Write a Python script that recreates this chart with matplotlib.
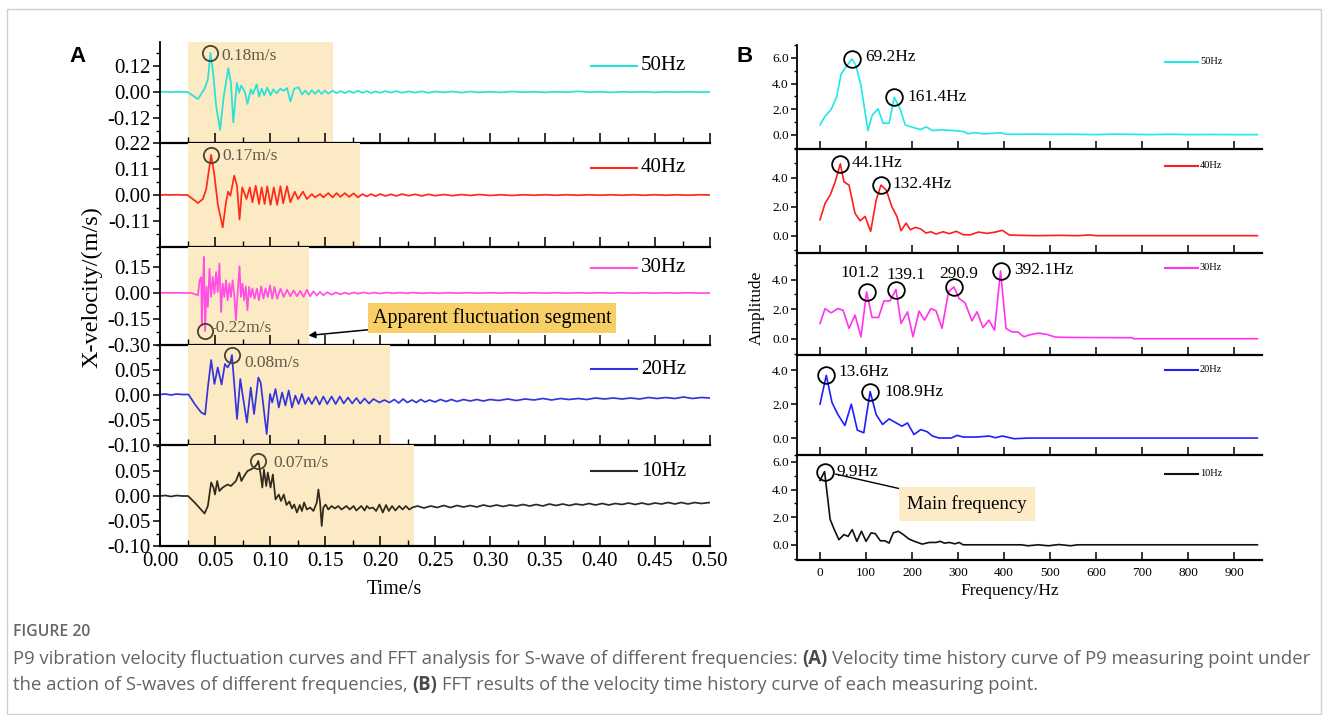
import numpy as np
import matplotlib
matplotlib.use("Agg")
import matplotlib.pyplot as plt
from matplotlib.ticker import FixedLocator, MultipleLocator, FormatStrFormatter
from matplotlib.lines import Line2D
from matplotlib.patches import Rectangle

plt.rcParams['axes.unicode_minus'] = False
plt.rcParams['font.family'] = ['Liberation Serif', 'DejaVu Serif']

# ---------------------------------------------------------------- data
# velocity time histories at P9 (time in s, X-velocity in m/s)
t50 = [0.000, 0.005, 0.010, 0.015, 0.020, 0.025, 0.0345, 0.0405, 0.0435, 0.0459,
       0.0483, 0.051, 0.0546, 0.058, 0.0621, 0.0645, 0.0666, 0.0699, 0.072, 0.0738,
       0.0771, 0.0795, 0.0825, 0.0843, 0.0879, 0.090, 0.0924, 0.0948, 0.0975, 0.1005,
       0.103, 0.106, 0.1095, 0.1125, 0.1155, 0.1185, 0.122, 0.126, 0.129, 0.132,
       0.135, 0.138, 0.141, 0.144, 0.147, 0.150, 0.153, 0.157, 0.1605, 0.164,
       0.168, 0.172, 0.176, 0.180, 0.184, 0.188, 0.192, 0.196, 0.200, 0.205,
       0.210, 0.215, 0.220, 0.226, 0.232, 0.238, 0.244, 0.250, 0.258, 0.266,
       0.274, 0.282, 0.290, 0.300, 0.310, 0.320, 0.330, 0.340, 0.350, 0.360,
       0.370, 0.380, 0.390, 0.400, 0.410, 0.420, 0.430, 0.440, 0.450, 0.460,
       0.470, 0.480, 0.490, 0.500]
v50 = [0.000, 0.001, -0.001, 0.001, 0.000, 0.000, -0.033, 0.015, 0.057, 0.180,
       0.087, -0.063, -0.175, -0.018, 0.110, 0.042, -0.141, 0.042, -0.003, 0.030,
       0.000, -0.055, 0.012, -0.010, 0.035, -0.021, 0.015, -0.015, 0.020, -0.015,
       0.012, -0.006, 0.015, 0.005, 0.018, -0.044, 0.015, 0.022, -0.012, 0.006,
       -0.012, 0.008, -0.009, 0.008, -0.009, 0.006, -0.008, 0.006, -0.006, 0.004,
       -0.005, 0.004, -0.004, 0.005, -0.004, 0.004, -0.005, 0.003, -0.004, 0.004,
       -0.003, 0.004, -0.004, 0.003, -0.003, 0.003, -0.004, 0.002, -0.002, 0.002,
       -0.003, 0.002, -0.002, 0.001, -0.002, 0.002, -0.001, 0.001, -0.002, 0.001,
       -0.001, 0.003, -0.001, 0.001, -0.002, 0.001, -0.001, 0.001, -0.002, 0.001,
       -0.001, 0.001, -0.001, 0.000]

t40 = [0.000, 0.005, 0.010, 0.015, 0.020, 0.025, 0.0345, 0.039, 0.042, 0.0465,
       0.0495, 0.0525, 0.057, 0.060, 0.062, 0.064, 0.0675, 0.070, 0.0723, 0.0747,
       0.0765, 0.0786, 0.0816, 0.084, 0.087, 0.090, 0.0924, 0.0951, 0.0975, 0.1005,
       0.1035, 0.1065, 0.1095, 0.112, 0.1155, 0.1185, 0.1225, 0.1255, 0.130, 0.1335,
       0.138, 0.141, 0.1455, 0.1485, 0.153, 0.157, 0.1605, 0.164, 0.168, 0.172,
       0.176, 0.180, 0.184, 0.188, 0.192, 0.196, 0.200, 0.205, 0.210, 0.215,
       0.220, 0.226, 0.232, 0.238, 0.244, 0.250, 0.258, 0.266, 0.274, 0.282,
       0.290, 0.300, 0.310, 0.320, 0.330, 0.340, 0.350, 0.360, 0.370, 0.380,
       0.390, 0.400, 0.410, 0.420, 0.430, 0.440, 0.450, 0.460, 0.470, 0.480,
       0.490, 0.500]
v40 = [0.000, 0.001, 0.000, 0.001, 0.000, 0.000, -0.034, -0.017, 0.025, 0.170,
       0.082, -0.038, -0.137, -0.031, 0.014, -0.003, 0.082, 0.039, -0.104, 0.032,
       0.011, -0.017, 0.032, -0.031, 0.039, -0.038, 0.032, -0.038, 0.037, -0.042,
       0.032, -0.042, 0.037, -0.035, 0.037, -0.031, 0.014, -0.017, 0.014, -0.017,
       0.004, -0.010, 0.004, -0.010, 0.008, -0.010, 0.008, -0.008, 0.008, -0.008,
       0.007, -0.010, 0.004, -0.006, 0.004, -0.005, 0.004, -0.004, 0.003, -0.004,
       0.004, -0.003, 0.003, -0.004, 0.003, -0.003, 0.002, -0.003, 0.002, -0.002,
       0.002, -0.002, 0.001, -0.002, 0.001, -0.001, 0.001, -0.001, 0.001, -0.001,
       0.001, -0.001, 0.001, -0.001, 0.001, -0.001, 0.001, -0.001, 0.001, -0.001,
       0.001, 0.000]

t30 = [0.000, 0.005, 0.010, 0.015, 0.020, 0.025, 0.0285, 0.0345, 0.036, 0.0375,
       0.038, 0.039, 0.0399, 0.041, 0.0423, 0.0435, 0.045, 0.0465, 0.048, 0.0495,
       0.051, 0.0525, 0.054, 0.0555, 0.057, 0.0585, 0.060, 0.0615, 0.063, 0.0645,
       0.066, 0.0675, 0.069, 0.0705, 0.0723, 0.0735, 0.075, 0.0765, 0.078, 0.0795,
       0.081, 0.0825, 0.084, 0.086, 0.088, 0.090, 0.092, 0.094, 0.096, 0.098,
       0.100, 0.102, 0.104, 0.1065, 0.1095, 0.1125, 0.1155, 0.1185, 0.1215, 0.1245,
       0.1275, 0.1305, 0.1335, 0.1365, 0.1395, 0.1425, 0.1455, 0.1485, 0.152, 0.156,
       0.160, 0.164, 0.168, 0.172, 0.176, 0.180, 0.185, 0.190, 0.195, 0.200,
       0.206, 0.212, 0.218, 0.224, 0.230, 0.238, 0.246, 0.254, 0.262, 0.270,
       0.280, 0.290, 0.300, 0.310, 0.320, 0.330, 0.340, 0.350, 0.360, 0.370,
       0.380, 0.390, 0.400, 0.410, 0.420, 0.430, 0.440, 0.450, 0.460, 0.470,
       0.480, 0.490, 0.500]
v30 = [0.000, 0.001, 0.000, 0.001, 0.000, 0.000, 0.000, -0.013, 0.073, 0.092,
       -0.187, 0.025, 0.208, -0.220, 0.035, -0.081, 0.140, -0.023, 0.092, -0.004,
       0.121, 0.006, 0.169, -0.110, 0.054, -0.023, 0.073, -0.042, 0.054, -0.023,
       0.073, -0.013, -0.158, -0.004, 0.154, -0.023, 0.054, -0.042, 0.038, -0.100,
       0.035, -0.023, 0.025, -0.033, 0.025, -0.042, 0.038, -0.033, 0.025, -0.023,
       0.044, -0.033, 0.035, -0.033, 0.025, -0.023, 0.019, -0.019, 0.015, -0.019,
       0.012, -0.023, 0.019, -0.019, 0.010, -0.015, 0.006, -0.013, 0.004, -0.010,
       0.003, -0.008, 0.002, -0.006, 0.003, -0.004, 0.003, -0.003, 0.002, -0.003,
       0.002, -0.002, 0.002, -0.002, 0.002, -0.002, 0.001, -0.002, 0.001, -0.001,
       0.001, -0.001, 0.001, -0.001, 0.001, -0.001, 0.001, -0.001, 0.001, -0.001,
       0.001, -0.001, 0.001, -0.001, 0.001, -0.001, 0.001, -0.001, 0.001, -0.001,
       0.001, -0.001, 0.000]

t20 = [0.000, 0.005, 0.010, 0.015, 0.020, 0.026, 0.0315, 0.0375, 0.041, 0.0435,
       0.0465, 0.0495, 0.0525, 0.056, 0.059, 0.0615, 0.064, 0.0654, 0.0675, 0.070,
       0.073, 0.075, 0.079, 0.0825, 0.0855, 0.0894, 0.0915, 0.097, 0.100, 0.102,
       0.105, 0.108, 0.111, 0.114, 0.117, 0.120, 0.123, 0.126, 0.129, 0.132,
       0.135, 0.138, 0.1417, 0.145, 0.1485, 0.152, 0.156, 0.1597, 0.1635, 0.167,
       0.171, 0.1747, 0.1786, 0.182, 0.186, 0.190, 0.194, 0.1995, 0.204, 0.2086,
       0.213, 0.217, 0.221, 0.225, 0.229, 0.233, 0.237, 0.241, 0.245, 0.250,
       0.255, 0.260, 0.265, 0.270, 0.276, 0.282, 0.288, 0.294, 0.300, 0.308,
       0.316, 0.324, 0.332, 0.340, 0.348, 0.356, 0.364, 0.372, 0.380, 0.388,
       0.396, 0.404, 0.412, 0.420, 0.428, 0.436, 0.444, 0.452, 0.460, 0.468,
       0.476, 0.484, 0.492, 0.500]
v20 = [0.001, 0.002, 0.000, 0.002, 0.001, 0.001, -0.018, -0.035, -0.039, 0.015,
       0.070, 0.022, 0.055, 0.021, 0.062, 0.055, 0.065, 0.080, 0.022, -0.048,
       0.032, 0.002, -0.055, 0.015, -0.038, 0.035, 0.025, -0.078, 0.002, -0.015,
       0.012, -0.025, 0.005, -0.021, 0.009, -0.025, -0.001, -0.018, 0.002, -0.018,
       -0.005, -0.018, -0.003, -0.019, -0.003, -0.018, -0.003, -0.018, -0.003, -0.017,
       -0.005, -0.017, -0.006, -0.017, -0.007, -0.017, -0.008, -0.015, -0.010, -0.015,
       -0.009, -0.016, -0.008, -0.015, -0.010, -0.015, -0.009, -0.014, -0.010, -0.014,
       -0.009, -0.013, -0.009, -0.013, -0.009, -0.012, -0.009, -0.012, -0.009, -0.011,
       -0.008, -0.011, -0.008, -0.010, -0.007, -0.010, -0.007, -0.009, -0.007, -0.009,
       -0.006, -0.008, -0.006, -0.008, -0.006, -0.008, -0.005, -0.007, -0.005, -0.007,
       -0.004, -0.007, -0.005, -0.006]

t10 = [0.000, 0.005, 0.010, 0.015, 0.020, 0.0255, 0.0315, 0.0405, 0.0435, 0.0465,
       0.0486, 0.050, 0.052, 0.054, 0.057, 0.0615, 0.0645, 0.069, 0.072, 0.074,
       0.0765, 0.0795, 0.0825, 0.0855, 0.088, 0.0894, 0.0915, 0.093, 0.0945, 0.0966,
       0.098, 0.1005, 0.1026, 0.105, 0.108, 0.110, 0.1125, 0.115, 0.1176, 0.120,
       0.122, 0.1245, 0.127, 0.129, 0.131, 0.1335, 0.1365, 0.1395, 0.1425, 0.144,
       0.1455, 0.147, 0.1485, 0.1506, 0.153, 0.156, 0.159, 0.162, 0.165, 0.1695,
       0.1725, 0.176, 0.1785, 0.183, 0.186, 0.188, 0.1905, 0.1935, 0.1965, 0.1995,
       0.2025, 0.2055, 0.208, 0.211, 0.214, 0.2175, 0.2205, 0.2235, 0.2265, 0.2295,
       0.234, 0.240, 0.246, 0.252, 0.258, 0.264, 0.270, 0.276, 0.282, 0.288,
       0.294, 0.300, 0.306, 0.312, 0.318, 0.324, 0.330, 0.336, 0.342, 0.348,
       0.354, 0.360, 0.366, 0.372, 0.378, 0.384, 0.390, 0.396, 0.402, 0.408,
       0.414, 0.420, 0.426, 0.432, 0.438, 0.444, 0.450, 0.456, 0.462, 0.468,
       0.474, 0.480, 0.486, 0.492, 0.500]
v10 = [0.000, 0.001, -0.001, 0.001, 0.000, 0.000, -0.013, -0.035, -0.020, 0.027,
       0.017, 0.003, 0.030, 0.010, 0.017, 0.023, 0.020, 0.030, 0.047, 0.030,
       0.040, 0.050, 0.053, 0.057, 0.063, 0.070, 0.043, 0.017, 0.053, 0.020,
       0.047, 0.017, 0.043, -0.007, 0.003, -0.010, 0.003, -0.018, -0.011, -0.025,
       -0.017, -0.033, -0.018, -0.030, -0.013, -0.027, -0.023, -0.030, -0.013, 0.013,
       -0.013, -0.060, -0.023, -0.017, -0.027, -0.020, -0.025, -0.020, -0.027, -0.020,
       -0.027, -0.020, -0.029, -0.020, -0.029, -0.020, -0.025, -0.023, -0.030, -0.017,
       -0.033, -0.018, -0.030, -0.020, -0.029, -0.020, -0.027, -0.020, -0.027, -0.023,
       -0.020, -0.024, -0.020, -0.023, -0.019, -0.023, -0.019, -0.022, -0.019, -0.022,
       -0.018, -0.021, -0.018, -0.021, -0.018, -0.020, -0.017, -0.020, -0.017, -0.020,
       -0.016, -0.019, -0.016, -0.019, -0.016, -0.018, -0.015, -0.018, -0.015, -0.018,
       -0.015, -0.017, -0.014, -0.017, -0.014, -0.017, -0.014, -0.016, -0.013, -0.016,
       -0.013, -0.016, -0.013, -0.015, -0.013]

# FFT amplitude spectra (frequency in Hz)
f50 = [0, 11, 24, 36, 46, 56, 69.2, 78, 89, 104, 113, 126, 137, 150, 161.4, 174,
       185, 200, 218, 231, 244, 267, 289, 311, 322, 335, 356, 393, 404, 430, 470,
       510, 550, 600, 640, 680, 720, 760, 800, 850, 900, 950]
a50 = [0.78, 1.45, 1.97, 2.94, 4.75, 5.27, 5.92, 5.40, 3.84, 0.34, 1.50, 2.03,
       0.91, 0.91, 2.93, 2.03, 0.78, 0.60, 0.42, 0.62, 0.34, 0.39, 0.34, 0.26,
       0.08, 0.18, 0.08, 0.16, 0.05, 0.05, 0.06, 0.04, 0.05, 0.02, 0.06, 0.04,
       0.02, 0.05, 0.02, 0.03, 0.02, 0.02]

f40 = [0, 11, 22, 33, 44.1, 52, 63, 76, 87, 98, 110, 122, 132.4, 144, 156, 167,
       176, 187, 196, 207, 219, 230, 241, 252, 267, 281, 296, 311, 326, 344, 363,
       381, 396, 411, 437, 474, 520, 560, 585, 600, 700, 800, 950]
a40 = [1.10, 2.24, 2.81, 3.73, 4.98, 3.73, 3.50, 1.55, 1.03, 1.33, 0.30, 2.47,
       3.50, 3.15, 2.00, 1.33, 0.34, 0.87, 0.41, 0.57, 0.46, 0.18, 0.27, 0.11,
       0.27, 0.14, 0.30, 0.07, 0.05, 0.25, 0.16, 0.25, 0.37, 0.05, 0.02, 0.00,
       0.02, 0.00, 0.05, 0.00, 0.00, 0.00, 0.00]

f30 = [0, 11, 24, 39, 50, 63, 76, 89, 101.2, 113, 127, 139, 152, 165, 176, 190,
       202, 215, 227, 241, 252, 265, 279, 290.9, 302, 315, 330, 341, 354, 367,
       379, 392.1, 404, 416, 430, 443, 456, 474, 493, 511, 537, 600, 678, 681,
       800, 950]
a30 = [1.03, 2.04, 1.75, 2.04, 1.93, 0.70, 1.60, 0.13, 3.17, 1.44, 1.44, 2.56,
       2.56, 3.33, 1.03, 1.82, 0.13, 1.87, 1.26, 2.04, 1.89, 0.70, 3.17, 3.50,
       2.72, 2.43, 1.21, 1.82, 0.76, 1.26, 0.58, 4.58, 0.70, 0.47, 0.45, 0.13,
       0.27, 0.38, 0.29, 0.11, 0.09, 0.08, 0.07, 0.00, 0.00, 0.00]

f20 = [0, 13.6, 26, 39, 54, 68, 81, 95, 108.9, 122, 136, 150, 163, 178, 190, 204,
       219, 233, 244, 259, 285, 298, 311, 341, 367, 381, 396, 422, 452, 600, 800,
       950]
a20 = [2.00, 3.70, 2.10, 1.38, 0.74, 2.00, 0.47, 0.31, 2.74, 1.38, 0.80, 1.13,
       0.93, 0.70, 0.89, 0.21, 0.50, 0.37, 0.12, 0.00, 0.00, 0.16, 0.06, 0.06,
       0.12, 0.02, 0.12, -0.04, 0.00, 0.00, 0.00, 0.00]

f10 = [0, 9.9, 22, 31, 41, 52, 61, 70, 80, 90, 100, 111, 120, 131, 141, 150, 159,
       170, 181, 193, 205, 222, 237, 252, 261, 270, 281, 293, 302, 311, 437, 452,
       474, 496, 519, 544, 560, 700, 950]
a10 = [4.66, 5.30, 1.84, 1.10, 0.37, 0.74, 0.61, 1.10, 0.25, 0.98, 0.25, 0.86,
       0.81, 0.29, 0.29, 0.12, 0.86, 0.98, 0.74, 0.42, 0.25, 0.05, 0.17, 0.17,
       0.25, 0.12, 0.17, 0.07, 0.17, 0.00, 0.00, -0.07, 0.00, -0.07, 0.02, -0.07,
       0.00, 0.00, 0.00]

series_names = ['50Hz', '40Hz', '30Hz', '20Hz', '10Hz']
segment_end = [0.157, 0.182, 0.135, 0.209, 0.231]       # end of the apparent fluctuation segment, s
peak_labels = ['0.18m/s', '0.17m/s', '-0.22m/s', '0.08m/s', '0.07m/s']
fft_peaks = [[69.2, 161.4], [44.1, 132.4], [101.2, 165, 290.9, 392.1], [13.6, 108.9], [9.9]]
fft_peak_labels = [['69.2Hz', '161.4Hz'], ['44.1Hz', '132.4Hz'],
                   ['101.2', '139.1', '290.9', '392.1Hz'], ['13.6Hz', '108.9Hz'], ['9.9Hz']]

# ---------------------------------------------------------------- figure
W, H = 1328, 715
fig = plt.figure(figsize=(W / 100, H / 100), dpi=100)


def fx(x):
    return x / W


def fy(y):
    return 1 - y / H


def panel(x0, y_top, x1, y_bot):
    return fig.add_axes([fx(x0), fy(y_bot), (x1 - x0) / W, (y_bot - y_top) / H])


SHADE = '#FCEAC4'
CIRC_L = '#4A4330'
TXT_L = '#5F5944'
left_colors = ['#28E2D8', '#FF2A1A', '#FF4FE4', '#3535DC', '#2F2A1C']
right_colors = ['#1EE8E8', '#FF1E1E', '#FF33EE', '#1E1EFF', '#111111']

left_t = [t50, t40, t30, t20, t10]
left_v = [v50, v40, v30, v20, v10]
left_bounds = [42, 143, 247, 345, 445, 546]
left_ylim = [(-0.235, 0.23), (-0.22, 0.22), (-0.30, 0.265), (-0.10, 0.10), (-0.10, 0.102)]
left_major = [[-0.12, 0.0, 0.12], [-0.11, 0.0, 0.11, 0.22], [-0.30, -0.15, 0.0, 0.15],
              [-0.10, -0.05, 0.0, 0.05], [-0.10, -0.05, 0.0, 0.05]]
left_minor = [0.06, 0.055, 0.075, 0.025, 0.025]
left_note_off = [(11, -3), (11, -1), (5, 3), (12, -8), (15, -2)]
left_legend_y = [66, 168, 268, 369, 471]

for i in range(5):
    ax = panel(160, left_bounds[i], 710, left_bounds[i + 1])
    ax.set_xlim(0, 0.5)
    ax.set_ylim(*left_ylim[i])
    ax.patch.set_alpha(0)
    ax.axvspan(0.025, segment_end[i], color=SHADE, lw=0, zorder=0)
    ax.plot(left_t[i], left_v[i], color=left_colors[i], lw=1.25, zorder=2)
    for s in ('top', 'right'):
        ax.spines[s].set_visible(False)
    ax.spines['left'].set_linewidth(1.3)
    ax.spines['bottom'].set_linewidth(1.6)
    ax.yaxis.set_major_locator(FixedLocator(left_major[i]))
    ax.yaxis.set_minor_locator(MultipleLocator(left_minor[i]))
    ax.yaxis.set_major_formatter(FormatStrFormatter('%.2f'))
    ax.xaxis.set_major_locator(MultipleLocator(0.05))
    ax.xaxis.set_minor_locator(MultipleLocator(0.025))
    ax.xaxis.set_major_formatter(FormatStrFormatter('%.2f'))
    ax.tick_params(axis='y', which='major', direction='out', length=5, width=1.1,
                   labelsize=15, pad=2)
    ax.tick_params(axis='y', which='minor', direction='out', length=3, width=1)
    ax.tick_params(axis='x', which='major', direction='in', length=7, width=1.1,
                   labelsize=15, pad=4, labelbottom=(i == 4))
    ax.tick_params(axis='x', which='minor', direction='in', length=4, width=1)

    v = np.asarray(left_v[i])
    k = int(np.argmin(v)) if peak_labels[i].startswith('-') else int(np.argmax(v))
    tp, vp = left_t[i][k], v[k]
    ax.plot([tp], [vp], 'o', ms=11, mfc='none', mec=CIRC_L, mew=1.3, zorder=3)
    ax.annotate(peak_labels[i], (tp, vp), xytext=left_note_off[i],
                textcoords='offset pixels', fontsize=12.5, color=TXT_L,
                ha='left', va='center', zorder=3)

    yl = fy(left_legend_y[i])
    fig.add_artist(Line2D([fx(591), fx(637)], [yl, yl], color=left_colors[i], lw=1.5))
    fig.text(fx(641), yl, series_names[i], fontsize=15, ha='left', va='center')

    if i == 2:
        ax.annotate('Apparent fluctuation segment', xy=(segment_end[i], -0.245),
                    xycoords='data', xytext=(fx(492), fy(318)), textcoords='figure fraction',
                    fontsize=14.5, ha='center', va='center', zorder=5,
                    bbox=dict(boxstyle='square,pad=0.25', fc='#F8CF66', ec='none'),
                    arrowprops=dict(arrowstyle='-|>', color='black', lw=1.1,
                                    mutation_scale=10, shrinkA=0, shrinkB=0))

fig.text(fx(92), fy(287), 'X-velocity/(m/s)', rotation=90, fontsize=17.5,
         ha='center', va='center')
fig.text(fx(394), fy(589), 'Time/s', fontsize=14.5, ha='center', va='center')

# ---------------------------------------------------------------- FFT panels
right_f = [f50, f40, f30, f20, f10]
right_a = [a50, a40, a30, a20, a10]
right_bounds = [45, 149, 253, 355, 455, 560]
right_ylim = [(-1.1, 7.0), (-1.2, 6.0), (-1.1, 5.8), (-1.0, 4.9), (-1.1, 6.5)]
right_major = [[0, 2, 4, 6], [0, 2, 4], [0, 2, 4], [0, 2, 4], [0, 2, 4, 6]]
right_note_off = [[(13, 2, 'left'), (13, 0, 'left')],
                  [(11, 1, 'left'), (11, 1, 'left')],
                  [(-7, 19, 'center'), (10, 15, 'center'), (5, 13, 'center'), (14, 1, 'left')],
                  [(12, 3, 'left'), (14, 0, 'left')],
                  [(12, 0, 'left')]]
right_legend_y = [62, 166, 268, 370, 474]

for i in range(5):
    ax = panel(797, right_bounds[i], 1262, right_bounds[i + 1])
    ax.set_xlim(-50, 960)
    ax.set_ylim(*right_ylim[i])
    ax.patch.set_alpha(0)
    ax.plot(right_f[i], right_a[i], color=right_colors[i], lw=1.2, zorder=2)
    for s in ('top', 'right'):
        ax.spines[s].set_visible(False)
    ax.spines['left'].set_linewidth(1.3)
    ax.spines['bottom'].set_linewidth(1.6)
    ax.yaxis.set_major_locator(FixedLocator(right_major[i]))
    ax.yaxis.set_minor_locator(MultipleLocator(1.0))
    ax.yaxis.set_major_formatter(FormatStrFormatter('%.1f'))
    ax.xaxis.set_major_locator(MultipleLocator(100))
    ax.xaxis.set_major_formatter(FormatStrFormatter('%d'))
    ax.tick_params(axis='y', which='major', direction='out', length=4, width=1.1,
                   labelsize=9.5, pad=2)
    ax.tick_params(axis='y', which='minor', direction='out', length=2.5, width=1)
    ax.tick_params(axis='x', which='major', direction='in', length=6, width=1.1,
                   labelsize=9.5, pad=5, labelbottom=(i == 4))

    f = np.asarray(right_f[i])
    a = np.asarray(right_a[i])
    for fp, lab, (dx, dy, ha) in zip(fft_peaks[i], fft_peak_labels[i], right_note_off[i]):
        k = int(np.argmin(np.abs(f - fp)))
        ax.plot([f[k]], [a[k]], 'o', ms=12, mfc='none', mec='black', mew=1.3, zorder=3)
        ax.annotate(lab, (f[k], a[k]), xytext=(dx, dy), textcoords='offset pixels',
                    fontsize=12.5, ha=ha, va='center', zorder=3)

    yl = fy(right_legend_y[i])
    fig.add_artist(Line2D([fx(1165), fx(1198)], [yl, yl], color=right_colors[i], lw=1.5))
    fig.text(fx(1200), yl, series_names[i], fontsize=7.5, ha='left', va='center')

    if i == 4:
        ax.annotate('Main frequency', xy=(f[1], a[1]), xycoords='data',
                    xytext=(fx(967), fy(504)), textcoords='figure fraction',
                    fontsize=13.5, ha='center', va='center', zorder=5,
                    bbox=dict(boxstyle='square,pad=0.42', fc='#FDEBC8', ec='none'),
                    arrowprops=dict(arrowstyle='-', color='black', lw=1.0,
                                    shrinkA=0, shrinkB=8))

fig.text(fx(757), fy(308), 'Amplitude', rotation=90, fontsize=12.5, ha='center', va='center')
fig.text(fx(1010), fy(591), 'Frequency/Hz', fontsize=12.5, ha='center', va='center')

# panel letters
fig.text(fx(78), fy(57), 'A', fontsize=16, fontweight='bold', family='Liberation Sans',
         ha='center', va='center')
fig.text(fx(745), fy(57), 'B', fontsize=16, fontweight='bold', family='Liberation Sans',
         ha='center', va='center')

# ---------------------------------------------------------------- caption
CAP_FONT = 'Open Sans'
CAP_COLOR = '#646464'
renderer = fig.canvas.get_renderer()


def text_width(s, size, bold=False):
    t = fig.text(0, 0, s, fontsize=size, family=CAP_FONT,
                 fontweight='bold' if bold else 'normal')
    w = t.get_window_extent(renderer=renderer).width
    t.remove()
    return w


def draw_runs(runs, x_px, y_px, size):
    space = text_width('x x', size) - text_width('xx', size)
    x = x_px
    for n, (s, bold) in enumerate(runs):
        if n:
            x += space
        t = fig.text(fx(x), fy(y_px), s, fontsize=size, family=CAP_FONT,
                     fontweight='bold' if bold else 'normal',
                     color='#4A4A4A' if bold else CAP_COLOR,
                     ha='left', va='center')
        x += t.get_window_extent(renderer=renderer).width


line1 = [('P9 vibration velocity fluctuation curves and FFT analysis for S-wave of '
          'different frequencies:', False), ('(A)', True),
         ('Velocity time history curve of P9 measuring point under', False)]
line2 = [('the action of S-waves of different frequencies,', False), ('(B)', True),
         ('FFT results of the velocity time history curve of each measuring point.', False)]

base = 11.0
sp = text_width('x x', base) - text_width('xx', base)
w1 = sum(text_width(s, base, b) for s, b in line1) + 2 * sp
cap_size = base * 1305 / w1

fig.text(fx(13), fy(632), 'FIGURE 20', fontsize=cap_size * 0.85, family=CAP_FONT,
         fontweight='semibold', color='#666666', ha='left', va='center')
draw_runs(line1, 13, 659, cap_size)
draw_runs(line2, 13, 685, cap_size)

fig.add_artist(Rectangle((fx(7), fy(714)), (1321 - 7) / W, (714 - 9) / H,
                         fill=False, ec='#CFCFCF', lw=1.0))

fig.savefig('out.png', dpi=100)
